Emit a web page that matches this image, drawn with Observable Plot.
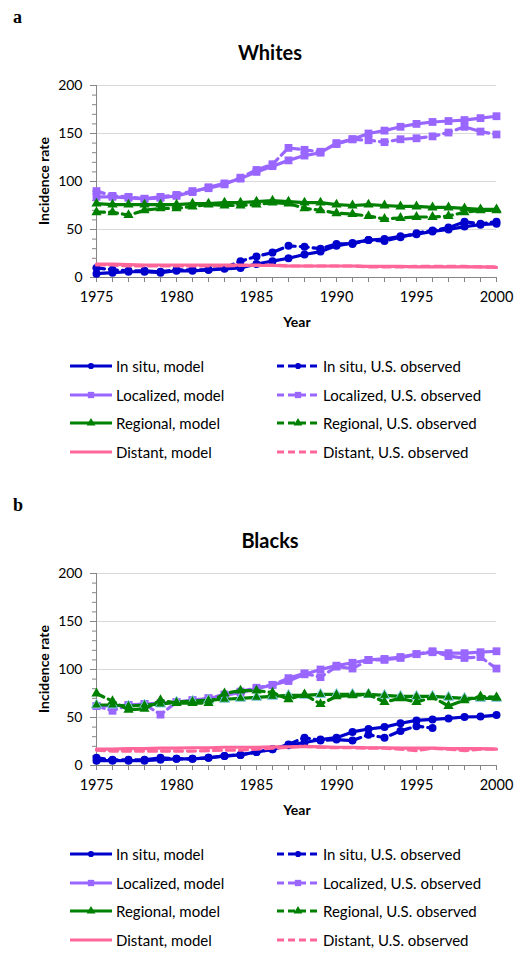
<!DOCTYPE html>
<html>
<head>
<meta charset="utf-8">
<script src="https://cdn.jsdelivr.net/npm/d3@7"></script>
<script src="https://cdn.jsdelivr.net/npm/@observablehq/plot@0.6"></script>
<style>
  html, body { margin: 0; padding: 0; background: #fff; }
  #page { position: relative; width: 527px; height: 962px; overflow: hidden; font-family: Lato, "Open Sans", sans-serif; color: #000; }
  .abs { position: absolute; white-space: nowrap; line-height: 1; }
  .letter { font-family: "Liberation Serif", "DejaVu Serif", serif; font-weight: bold; font-size: 18px; }
  .title { font-weight: bold; font-size: 20px; text-align: center; width: 540px; left: 0; }
  .ylab { font-weight: bold; font-size: 14px; transform: translate(-50%, -50%) rotate(-90deg); }
  .xlab { font-weight: bold; font-size: 14px; text-align: center; width: 200px; }
  .legtext { font-size: 15px; }
</style>
</head>
<body>
<div id="page"></div>
<script>
// ---------- data ----------
const years = [1975,1976,1977,1978,1979,1980,1981,1982,1983,1984,1985,1986,1987,1988,1989,1990,1991,1992,1993,1994,1995,1996,1997,1998,1999,2000];
const xTickLabels = [1975, 1980, 1985, 1990, 1995, 2000];
const yTickLabels = [0, 50, 100, 150, 200];
const yMinorTicks = [0,10,20,30,40,50,60,70,80,90,100,110,120,130,140,150,160,170,180,190,200];

const seriesNames = ["In situ, model", "In situ, U.S. observed", "Localized, model", "Localized, U.S. observed",
                     "Regional, model", "Regional, U.S. observed", "Distant, model", "Distant, U.S. observed"];
const panelTitles = ["Whites", "Blacks"];
const panelLetters = ["a", "b"];

// Whites
const whitesInSituModel      = [4,5,6,6,5,7,7,8,9,10,14,17,20,24,27,33,36,39,40,43,45,48,50,53,55,56];
const whitesInSituObserved   = [10,8,7,7,6,8,8,8,10,17,22,26,33,32,30,35,35,39,38,42,46,49,52,58,56,58];
const whitesLocalizedModel   = [84,84,83,82,83,85,89,94,98,103,110,116,122,127,130,140,144,150,153,157,160,162,163,164,166,168];
const whitesLocalizedObserved= [90,85,84,82,84,86,90,93,97,104,112,118,135,133,131,139,144,143,141,144,145,147,151,157,152,149];
const whitesRegionalModel    = [77,76,76,76,76,76,77,77,78,78,79,80,79,78,78,76,75,76,75,74,74,73,73,72,71,71];
const whitesRegionalObserved = [68,68,65,70,72,72,74,76,75,75,76,78,77,72,70,67,66,64,61,62,63,63,64,68,70,70];
const whitesDistantModel     = [14,14,13.5,13,13,13,13,13,13,13,12.5,12.5,12,12,12,12,12,11.5,11.5,11.5,11,11,11,11,11,10.5];
const whitesDistantObserved  = [13,13,12,12,12,12,12,12,12,12.5,13,13,12,12,12,12,12,11,11,11,11.5,11.5,11.5,11.5,11,11];

// Blacks
const blacksInSituModel      = [5,5,5,5,6,7,7,8,10,11,14,17,21,24,27,29,35,38,40,44,47,48,49,50.5,51,52.5];
const blacksInSituObserved   = [8,6,6,6,8,7,7,8,10,11,14,17,22,29,26,27,26,32,29,36,41,39,null,null,null,null];
const blacksLocalizedModel   = [62,62,63,64,65,66,68,70,73,76,80,84,88,95,100,104,107,110,111,113,116,118,117,117,118,119];
const blacksLocalizedObserved= [62,57,63,64,53,66,68,70,74,77,81,84,91,96,92,103,101,110,110,112,116,119,114,112,113,101];
const blacksRegionalModel    = [63,63,62,63,64,66,67,68,69,70,71,72,73,73,74,74,74,74,73,72,72,72,71,70,70,70];
const blacksRegionalObserved = [75,67,58,59,68,65,65,65,75,78,78,76,69,74,64,72,73,74,66,70,66,71,62,68,72,71];
const blacksDistantModel     = [17,17,17.5,17.5,18,18,18.5,18.5,19,19,19,19.5,19.5,20,19.5,19,19,18.5,18.5,18,18,18,17.5,17.5,17.5,17];
const blacksDistantObserved  = [16,15,15,15,15,15,15,15.5,16,16,17,18,19,20,19,18.5,18.5,18,18,17,15.5,18,17,15.5,17,17];

const whitesSeries = [whitesInSituModel, whitesInSituObserved, whitesLocalizedModel, whitesLocalizedObserved,
                      whitesRegionalModel, whitesRegionalObserved, whitesDistantModel, whitesDistantObserved];
const blacksSeries = [blacksInSituModel, blacksInSituObserved, blacksLocalizedModel, blacksLocalizedObserved,
                      blacksRegionalModel, blacksRegionalObserved, blacksDistantModel, blacksDistantObserved];

// ---------- styles ----------
const BLUE = "#0000cc", PURPLE = "#9966ff", GREEN = "#008000", PINK = "#ff6699";
const styles = [
  {color: BLUE,   dash: false, symbol: "circle",   r: 4},
  {color: BLUE,   dash: true,  symbol: "circle",   r: 4},
  {color: PURPLE, dash: false, symbol: "square",   r: 4.4},
  {color: PURPLE, dash: true,  symbol: "square",   r: 4.4},
  {color: GREEN,  dash: false, symbol: "triangle", r: 3.8},
  {color: GREEN,  dash: true,  symbol: "triangle", r: 3.8},
  {color: PINK,   dash: false, symbol: null},
  {color: PINK,   dash: true,  symbol: null}
];
const DASH = "8,5";

function makePlot(seriesList, panelIndex) {
  const marks = [
    Plot.gridY(yTickLabels.slice(1), {stroke: "#d9d9d9", strokeOpacity: 1}),
    Plot.axisY(yMinorTicks, {tickSize: 4, text: null, stroke: "#868686", label: null}),
    Plot.axisY(yTickLabels, {tickSize: 6, tickPadding: 8, fontSize: 14, stroke: "#868686", label: null}),
    Plot.axisX(years, {tickSize: 5, text: null, stroke: "#868686", label: null}),
    Plot.axisX(xTickLabels, {tickSize: 0, tickPadding: 14, fontSize: 14.5, tickFormat: d => String(d), label: null}),
    Plot.ruleX([1975], {stroke: "#868686"}),
    Plot.ruleY([0], {stroke: "#868686"})
  ];
  seriesList.forEach((values, i) => {
    const s = styles[i];
    const rows = years.map((year, j) => ({year, value: values[j]})).filter(d => d.value != null);
    marks.push(Plot.line(rows, {x: "year", y: "value", stroke: s.color, strokeWidth: 3.2,
      strokeDasharray: s.dash ? DASH : null}));
    if (s.symbol) {
      const outline = (panelIndex === 1 && i === 4);
      marks.push(Plot.dot(rows, {x: "year", y: "value", symbol: s.symbol, r: s.r, fill: s.color,
        stroke: outline ? "#86c8e6" : "none", strokeWidth: outline ? 1 : 0}));
    }
  });
  return Plot.plot({
    width: 527, height: 242,
    marginLeft: 96, marginRight: 31, marginTop: 20, marginBottom: 30,
    x: {domain: [1975, 2000], label: null},
    y: {domain: [0, 200], label: null},
    style: {fontFamily: "Lato, 'Open Sans', sans-serif", fontSize: "14px", color: "#000", background: "transparent", overflow: "visible"},
    marks
  });
}

function swatchSVG(s) {
  const ns = "http://www.w3.org/2000/svg";
  const svg = document.createElementNS(ns, "svg");
  svg.setAttribute("width", 44); svg.setAttribute("height", 14);
  const line = document.createElementNS(ns, "line");
  line.setAttribute("x1", 1); line.setAttribute("x2", 43);
  line.setAttribute("y1", 7); line.setAttribute("y2", 7);
  line.setAttribute("stroke", s.color); line.setAttribute("stroke-width", 3.2);
  if (s.dash) line.setAttribute("stroke-dasharray", "7,4");
  svg.appendChild(line);
  if (s.symbol) {
    const p = document.createElementNS(ns, "path");
    const sym = s.symbol === "circle" ? d3.symbolCircle : s.symbol === "square" ? d3.symbolSquare : d3.symbolTriangle;
    const size = s.symbol === "circle" ? 30 : s.symbol === "square" ? 40 : 34;
    p.setAttribute("d", d3.symbol(sym, size)());
    p.setAttribute("transform", "translate(22,7)");
    p.setAttribute("fill", s.color);
    svg.appendChild(p);
  }
  return svg;
}

const page = document.getElementById("page");
function addDiv(cls, text, css) {
  const d = document.createElement("div");
  d.className = "abs " + cls;
  d.textContent = text;
  Object.assign(d.style, css);
  page.appendChild(d);
  return d;
}

[whitesSeries, blacksSeries].forEach((seriesList, p) => {
  const o = p === 0 ? 0 : 488;
  addDiv("letter", panelLetters[p], {left: "13px", top: (o + 8) + "px"});
  addDiv("title", panelTitles[p], {top: (o + 42) + "px"});
  const plotEl = makePlot(seriesList, p);
  const wrap = document.createElement("div");
  wrap.style.position = "absolute"; wrap.style.left = "0px"; wrap.style.top = (o + 65) + "px";
  wrap.appendChild(plotEl);
  page.appendChild(wrap);
  addDiv("ylab", "Incidence rate", {left: "44px", top: (o + 181) + "px"});
  addDiv("xlab", "Year", {left: "197px", top: (o + 314.5) + "px"});
  const rowCenters = [366, 395, 423, 452];
  seriesNames.forEach((name, i) => {
    const col = i % 2, row = Math.floor(i / 2);
    const cy = o + rowCenters[row];
    const sw = swatchSVG(styles[i]);
    sw.style.position = "absolute";
    sw.style.left = (col === 0 ? 69 : 276) + "px";
    sw.style.top = (cy - 7) + "px";
    page.appendChild(sw);
    addDiv("legtext", name, {left: (col === 0 ? 116 : 323) + "px", top: (cy - 7.5) + "px"});
  });
});
</script>
</body>
</html>
